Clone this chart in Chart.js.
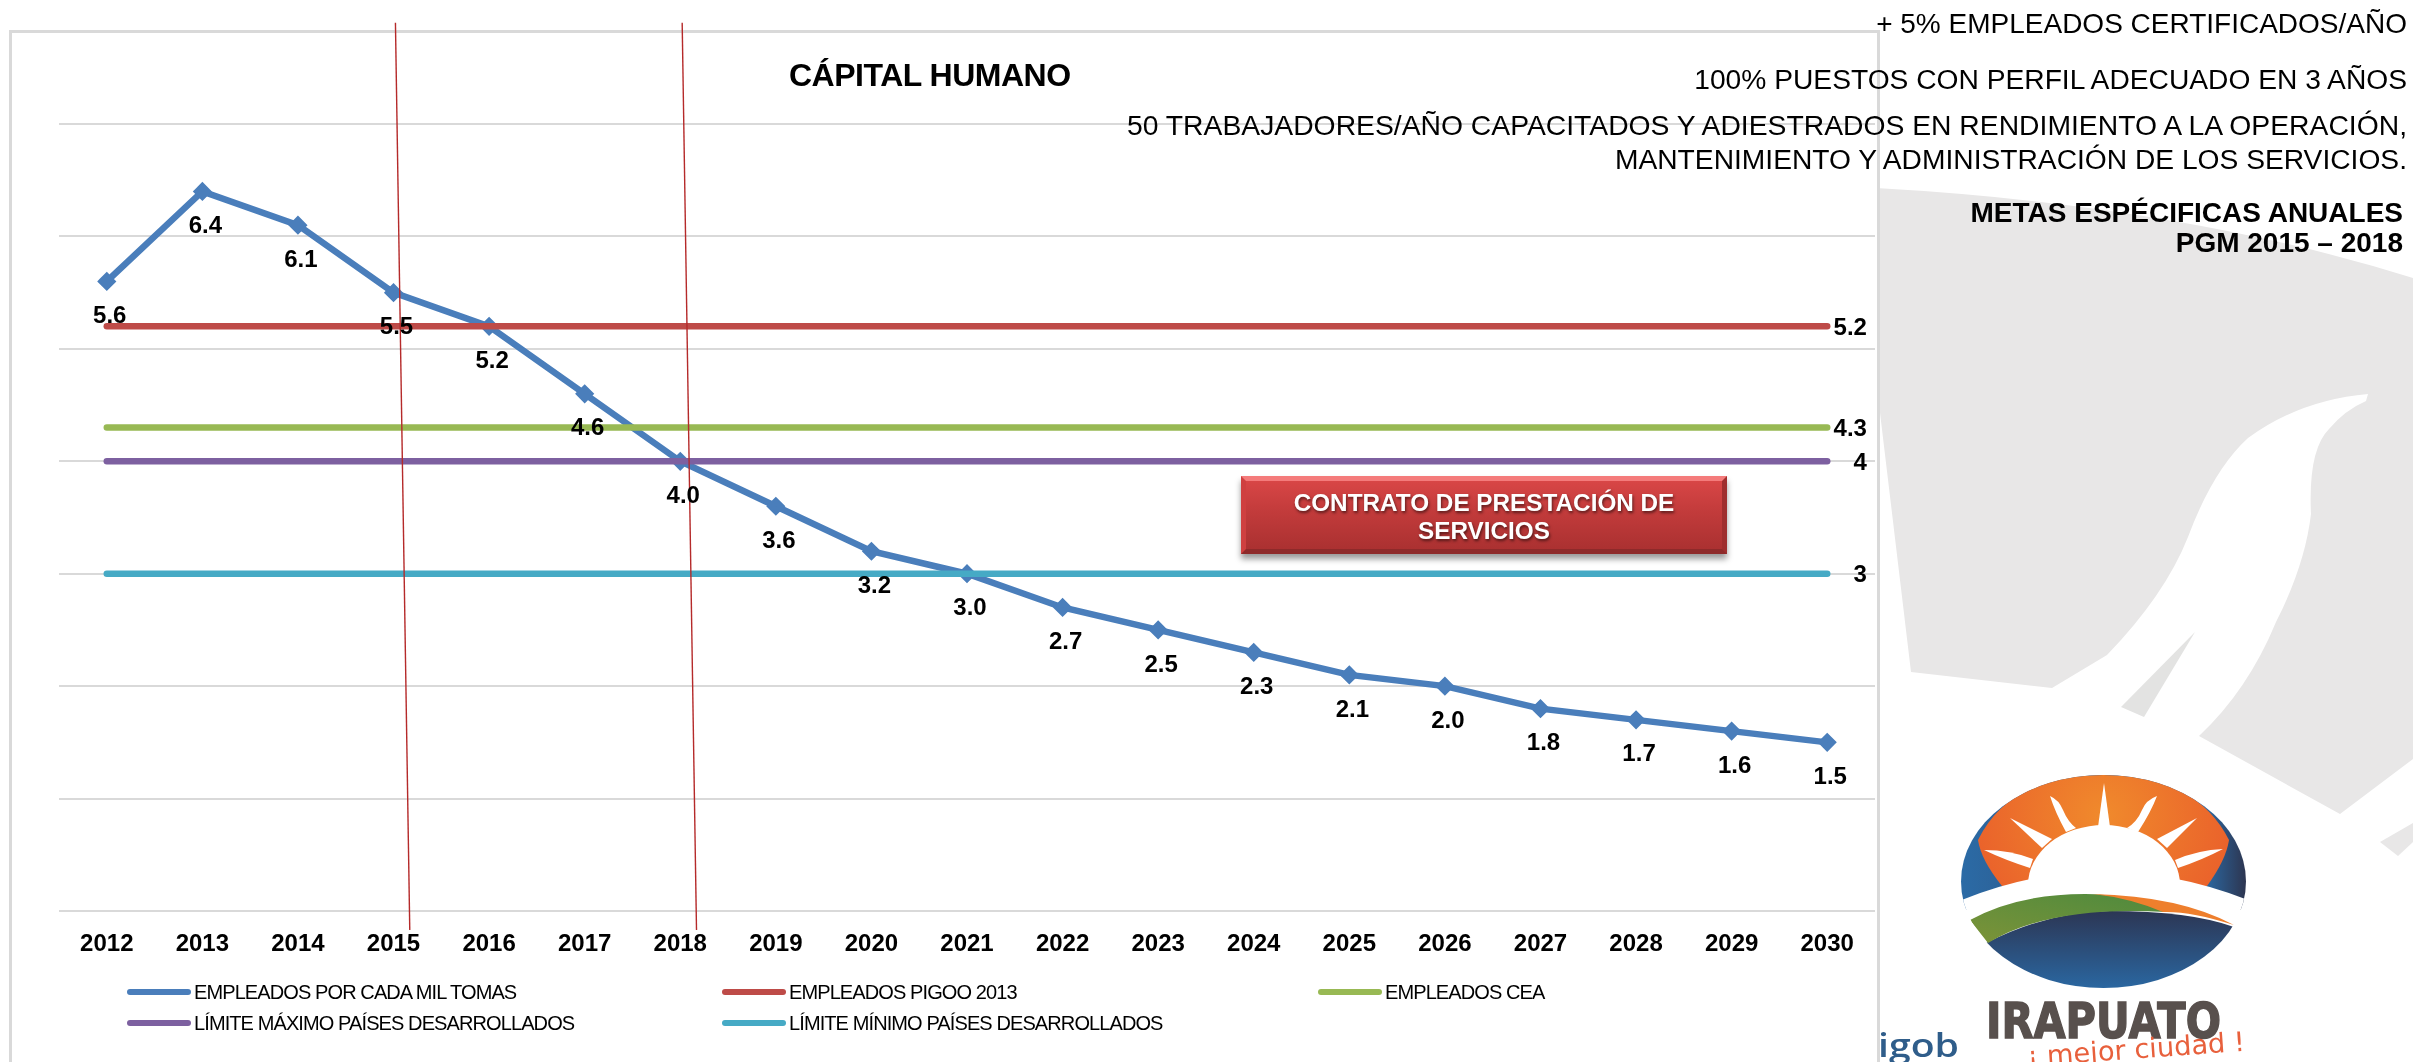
<!DOCTYPE html>
<html lang="es">
<head>
<meta charset="utf-8">
<title>Cápital Humano</title>
<script src="https://cdn.jsdelivr.net/npm/chart.js@4"></script>
<style>
    html, body { margin: 0; padding: 0; width: 2413px; height: 1062px; overflow: hidden; background: #fff; font-family: "Liberation Sans", Arial, sans-serif; color: #000; }
    #watermark, #logo { position: absolute; left: 0; top: 0; }
    #frame { position: absolute; left: 9px; top: 30px; width: 1865px; height: 1100px; background: #fff; border: 3px solid #d9d9d9; }
    #chart { position: absolute; left: 0; top: 0; }
    .note { position: absolute; right: 6px; font-size: 28.2px; line-height: 34px; white-space: nowrap; text-align: right; }
    .note.bold { font-weight: bold; font-size: 28px; right: 10px; }
    #title { position: absolute; left: 789px; top: 55px; font-size: 32px; line-height: 40px; font-weight: bold; white-space: nowrap; letter-spacing: -0.5px; }
    #contract { position: absolute; left: 1241px; top: 476px; width: 486px; height: 78px; box-sizing: border-box; padding-top: 8px; text-align: center; color: #fff; font-weight: bold; font-size: 24.3px; line-height: 28px; text-shadow: 1px 2px 3px rgba(0,0,0,.55); background: linear-gradient(#d84646, #c23b3b 45%, #ab3131); border-top: 5px solid #f47b7b; border-bottom: 5px solid #8e2a2a; border-left: 5px solid #cf4040; border-right: 5px solid #9f2e2e; box-shadow: 0 5px 6px rgba(0,0,0,.4); }
    .legend-item { position: absolute; height: 24px; display: flex; align-items: center; font-size: 20px; letter-spacing: -0.9px; white-space: nowrap; }
    .legend-item i { display: block; width: 64px; height: 6px; border-radius: 3px; margin-right: 3px; }
</style>
</head>
<body>
<svg id="watermark" width="2413" height="1062">
    <path fill="#e8e7e7" d="M1876 188 Q2180 205 2413 278 L2413 759 L2340 814 L2199 736 Q2248 690 2276 622 Q2305 565 2311 514 Q2308 450 2329 429 Q2345 410 2366 401 L2368 394 Q2300 400 2248 438 Q2213 470 2188 537 Q2165 595 2107 655 L2052 688 L1911 672 L1878 396 Z"/>
    <path fill="#e3e3e2" d="M2195 632 L2121 707 L2144 717 Z"/>
    <path fill="#e8e7e7" d="M2380 842 L2413 823 L2413 842 L2398 856 Z"/>
</svg>
<div id="frame"></div>
<canvas id="chart" width="2413" height="1062"></canvas>
<div id="title">CÁPITAL HUMANO</div>
<div class="note" style="top:7px;font-size:28px">+ 5% EMPLEADOS CERTIFICADOS/AÑO</div>
<div class="note" style="top:62px">100% PUESTOS CON PERFIL ADECUADO EN 3 AÑOS</div>
<div class="note" style="top:108px;font-size:28.3px">50 TRABAJADORES/AÑO CAPACITADOS Y ADIESTRADOS EN RENDIMIENTO A LA OPERACIÓN,</div>
<div class="note" style="top:142px">MANTENIMIENTO Y ADMINISTRACIÓN DE LOS SERVICIOS.</div>
<div class="note bold" style="top:196px">METAS ESPÉCIFICAS ANUALES</div>
<div class="note bold" style="top:226px">PGM 2015 – 2018</div>
<div id="contract">CONTRATO DE PRESTACIÓN DE<br>SERVICIOS</div>
<div id="legend"></div>
<svg id="logo" width="2413" height="1062">
    <defs>
        <clipPath id="disc"><ellipse cx="2103.5" cy="881.5" rx="142.5" ry="106.5"/></clipPath>
        <linearGradient id="sideBlue" x1="0" x2="1" y1="0" y2="0"><stop offset="0" stop-color="#2b6ba6"/><stop offset="0.5" stop-color="#2f4f7c"/><stop offset="0.85" stop-color="#2b6ba6"/><stop offset="1" stop-color="#2d3550"/></linearGradient>
        <radialGradient id="orange" gradientUnits="userSpaceOnUse" cx="2103" cy="815" r="130"><stop offset="0" stop-color="#f08a2c"/><stop offset="1" stop-color="#ea622b"/></radialGradient>
        <linearGradient id="lake" x1="0" x2="0" y1="0" y2="1"><stop offset="0" stop-color="#2c3654"/><stop offset="1" stop-color="#2a6eac"/></linearGradient>
        <linearGradient id="hill" x1="0" x2="1" y1="1" y2="0"><stop offset="0" stop-color="#7c9338"/><stop offset="1" stop-color="#4d8a3e"/></linearGradient>
    </defs>
    <g clip-path="url(#disc)">
        <rect x="1961" y="775" width="285" height="135" fill="url(#sideBlue)"/>
        <path fill="url(#orange)" d="M1978 840 Q2010 775 2103 775 Q2196 775 2229 840 Q2226 860 2207 886 L2002 886 Q1981 860 1978 840 Z"/>
        <path fill="#fff" d="M1950 905 Q2103 838 2260 905 L2260 1000 L1950 1000 Z"/>
        <ellipse cx="2104" cy="885" rx="76" ry="60" fill="#fff"/>
        <g fill="#fff">
            <path d="M2104 783 L2098 827 L2110 827 Z"/>
            <path d="M2050 796 Q2059 800 2063 810 Q2068 822 2076 828 L2066 832 Q2055 812 2050 796 Z"/>
            <path d="M2157 796 Q2146 800 2142 810 Q2137 822 2127 828 L2138 832 Q2151 812 2157 796 Z"/>
            <path d="M2010 818 L2052 839 L2042 848 Z"/>
            <path d="M2197 818 L2157 839 L2167 848 Z"/>
            <path d="M1984 850 Q2010 850 2033 859 L2030 868 Q2005 860 1984 850 Z"/>
            <path d="M2223 849 Q2198 850 2175 860 L2178 868 Q2202 860 2223 849 Z"/>
        </g>
        <path fill="url(#lake)" d="M1986 943 Q2050 911 2110 911 Q2190 911 2234 927 L2260 1000 L1950 1000 Z"/>
        <path fill="url(#hill)" d="M1970 920 Q2017 894 2085 894 Q2130 894 2166 912 Q2050 905 1988 943 Z"/>
        <path fill="#ee7f2d" d="M2093 894 Q2180 896 2234 925 Q2190 911 2163 912 Q2130 898 2093 894 Z"/>
    </g>
    <text x="1986" y="1038" font-family="'DejaVu Sans'" font-weight="bold" font-size="50" fill="#58504d" stroke="#58504d" stroke-width="1.5" textLength="235" lengthAdjust="spacingAndGlyphs">IRAPUATO</text>
    <text transform="translate(2028 1066) rotate(-4)" font-family="'DejaVu Sans'" font-size="27" fill="#e8603c" textLength="218" lengthAdjust="spacingAndGlyphs">¡ mejor ciudad !</text>
    <text x="1878" y="1057" font-family="'Open Sans'" font-weight="600" font-size="33" fill="#2f5d8a" textLength="81" lengthAdjust="spacingAndGlyphs">igob</text>
</svg>

<script>
const years = ['2012', '2013', '2014', '2015', '2016', '2017', '2018', '2019', '2020', '2021', '2022', '2023', '2024', '2025', '2026', '2027', '2028', '2029', '2030'];

const empleadosTomas = [5.6, 6.4, 6.1, 5.5, 5.2, 4.6, 4.0, 3.6, 3.2, 3.0, 2.7, 2.5, 2.3, 2.1, 2.0, 1.8, 1.7, 1.6, 1.5];
const empleadosPigoo = [5.2, 5.2, 5.2, 5.2, 5.2, 5.2, 5.2, 5.2, 5.2, 5.2, 5.2, 5.2, 5.2, 5.2, 5.2, 5.2, 5.2, 5.2, 5.2];
const empleadosCea = [4.3, 4.3, 4.3, 4.3, 4.3, 4.3, 4.3, 4.3, 4.3, 4.3, 4.3, 4.3, 4.3, 4.3, 4.3, 4.3, 4.3, 4.3, 4.3];
const limiteMaximo = [4, 4, 4, 4, 4, 4, 4, 4, 4, 4, 4, 4, 4, 4, 4, 4, 4, 4, 4];
const limiteMinimo = [3, 3, 3, 3, 3, 3, 3, 3, 3, 3, 3, 3, 3, 3, 3, 3, 3, 3, 3];

// the two hand drawn period markers lean a little in the original
const marker2015 = [{ x: 2015.02, y: 7.9 }, { x: 2015.17, y: -0.17 }];
const marker2018 = [{ x: 2018.02, y: 7.9 }, { x: 2018.17, y: -0.17 }];

function lineSeries(label, data, color, order) {
    return {
        label: label,
        data: data,
        borderColor: color,
        backgroundColor: color,
        borderWidth: 6.5,
        borderCapStyle: 'round',
        borderJoinStyle: 'miter',
        pointRadius: 0,
        tension: 0,
        order: order
    };
}

function markerLine(data) {
    return {
        data: data,
        xAxisID: 'xMarker',
        borderColor: '#b52a2a',
        borderWidth: 1.4,
        pointRadius: 0,
        clip: false,
        order: -10
    };
}

const blueSeries = lineSeries('EMPLEADOS POR CADA MIL TOMAS', empleadosTomas, '#4a7ebb', 5);
blueSeries.pointStyle = 'rectRot';
blueSeries.pointRadius = 5;

const seriesList = [
    blueSeries,
    lineSeries('EMPLEADOS PIGOO 2013', empleadosPigoo, '#be4b48', 4),
    lineSeries('EMPLEADOS CEA', empleadosCea, '#98b954', 3),
    lineSeries('LÍMITE MÁXIMO PAÍSES DESARROLLADOS', limiteMaximo, '#7d60a0', 2),
    lineSeries('LÍMITE MÍNIMO PAÍSES DESARROLLADOS', limiteMinimo, '#46aac5', 1)
];

const valueLabels = {
    id: 'valueLabels',
    afterDatasetsDraw(chart) {
        const ctx = chart.ctx;
        ctx.save();
        ctx.font = 'bold 24px "Liberation Sans"';
        ctx.fillStyle = '#000';
        ctx.textAlign = 'center';
        ctx.textBaseline = 'middle';
        chart.getDatasetMeta(0).data.forEach(function(point, i) {
            ctx.fillText(empleadosTomas[i].toFixed(1), point.x + 3, point.y + 35);
        });
        // constant series only get a label at the end of the line
        for (let d = 1; d < seriesList.length; d++) {
            const points = chart.getDatasetMeta(d).data;
            const last = points[points.length - 1];
            const value = seriesList[d].data[points.length - 1];
            const shift = Number.isInteger(value) ? 33 : 23;
            ctx.fillText(String(value), last.x + shift, last.y + 2);
        }
        ctx.restore();
    }
};

new Chart(document.getElementById('chart').getContext('2d'), {
    type: 'line',
    data: {
        labels: years,
        datasets: seriesList.concat([markerLine(marker2015), markerLine(marker2018)])
    },
    options: {
        responsive: false,
        animation: false,
        events: [],
        layout: { padding: { left: 59, right: 538, top: 124, bottom: 0 } },
        scales: {
            x: {
                offset: true,
                grid: { display: false },
                border: { display: false },
                afterFit: function(scale) { scale.height = 151; },
                ticks: {
                    color: '#000',
                    padding: 11,
                    maxRotation: 0,
                    autoSkip: false,
                    font: { family: '"Liberation Sans"', size: 24, weight: 'bold' }
                }
            },
            xMarker: { type: 'linear', display: false, min: 2011.5, max: 2030.5 },
            y: {
                min: 0,
                max: 7,
                afterFit: function(scale) { scale.width = 0; },
                border: { display: false },
                grid: { color: '#d9d9d9', lineWidth: 2, drawTicks: false },
                ticks: { display: false, stepSize: 1 }
            }
        },
        plugins: {
            legend: { display: false },
            tooltip: { enabled: false }
        }
    },
    plugins: [valueLabels]
});

// legend laid out in the three columns of the original
const legendColumns = [127, 722, 1318];
const legendRows = [980, 1011];
const legend = document.getElementById('legend');
seriesList.forEach(function(series, i) {
    const item = document.createElement('div');
    item.className = 'legend-item';
    item.style.left = legendColumns[i % 3] + 'px';
    item.style.top = legendRows[Math.floor(i / 3)] + 'px';
    item.innerHTML = '<i style="background:' + series.borderColor + '"></i>' + series.label;
    legend.appendChild(item);
});
</script>
</body>
</html>
